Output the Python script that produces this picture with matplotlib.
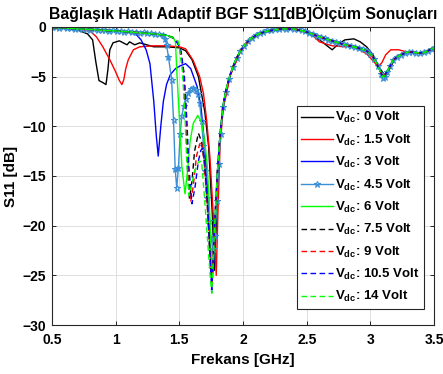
import numpy as np
import matplotlib
matplotlib.use("Agg")
import matplotlib.pyplot as plt

plt.rcParams['font.family'] = ['Liberation Sans', 'DejaVu Sans']
plt.rcParams['font.weight'] = 'bold'
plt.rcParams['mathtext.fontset'] = 'custom'
plt.rcParams['mathtext.rm'] = 'Liberation Sans:bold'
plt.rcParams['mathtext.bf'] = 'Liberation Sans:bold'
plt.rcParams['mathtext.it'] = 'Liberation Sans:bold'

# shared upper band (GHz, dB)
top_f = [0.5, 0.6, 0.7, 0.8, 0.9, 1.0, 1.1, 1.2, 1.3, 1.4]
top_s = [-0.05, -0.1, -0.2, -0.25, -0.35, -0.4, -0.5, -0.6, -0.7, -0.85]

# shared recovery after main dip
tail_f = [1.82, 1.845, 1.87, 1.9, 1.94, 1.98, 2.02, 2.06, 2.12, 2.2, 2.3, 2.4, 2.5, 2.6,
          2.7, 2.8, 2.9, 2.97, 3.02, 3.06, 3.1, 3.14, 3.18, 3.24, 3.3, 3.36, 3.42, 3.5]
tail_s = [-10.8, -7.8, -6.2, -4.8, -3.4, -2.4, -1.7, -1.2, -0.7, -0.4, -0.2, -0.2, -0.5, -1.0,
          -1.4, -1.8, -2.1, -2.4, -3.0, -4.0, -5.1, -4.3, -3.3, -2.8, -2.5, -2.6, -2.6, -2.1]

# 0 V
f_0 = [0.5, 0.6, 0.7, 0.78, 0.82, 0.845, 0.87, 0.9, 0.925, 0.94, 0.955, 0.98, 1.03, 1.09,
       1.11, 1.15, 1.19, 1.3, 1.4, 1.5, 1.55, 1.6, 1.65, 1.7, 1.73, 1.76, 1.775, 1.79, 1.80,
       1.82, 1.845, 1.9, 1.98, 2.06, 2.15, 2.25, 2.35, 2.45, 2.55, 2.6, 2.65, 2.7, 2.75, 2.8,
       2.87, 2.92, 2.97, 3.02, 3.07, 3.12, 3.16, 3.2, 3.25, 3.3, 3.36, 3.42, 3.5]
s_0 = [-0.05, -0.15, -0.3, -0.7, -1.3, -3.5, -5.4, -5.6, -5.8, -4.3, -2.3, -1.6, -1.4, -1.8,
       -1.5, -1.8, -1.6, -2.0, -2.0, -2.1, -2.4, -3.3, -5.0, -8.5, -12.0, -19.0, -24.5, -20.0,
       -16.5, -11.0, -8.0, -4.8, -2.4, -1.2, -0.6, -0.3, -0.2, -0.3, -0.9, -1.3, -1.8, -2.3,
       -1.7, -1.3, -1.2, -1.5, -2.0, -2.8, -4.1, -5.0, -4.0, -3.0, -2.7, -2.5, -2.6, -2.6, -2.1]

# 1.5 V
f_15 = [0.5, 0.6, 0.7, 0.8, 0.85, 0.9, 0.955, 1.0, 1.03, 1.05, 1.065, 1.08, 1.1, 1.14, 1.19,
        1.3, 1.4, 1.5, 1.55, 1.61, 1.66, 1.69, 1.715, 1.74, 1.76, 1.78, 1.79, 1.805, 1.82,
        1.845, 1.9, 1.98, 2.06, 2.15, 2.25, 2.35, 2.45, 2.55, 2.6, 2.7, 2.8, 2.84, 2.9, 2.97,
        3.02, 3.06, 3.09, 3.12, 3.16, 3.22, 3.28, 3.36, 3.42, 3.5]
s_15 = [-0.05, -0.15, -0.25, -0.4, -1.0, -2.0, -3.3, -4.5, -5.4, -5.8, -5.3, -4.2, -3.3,
        -2.3, -2.0, -1.9, -1.9, -2.0, -2.2, -3.4, -5.0, -6.7, -9.4, -13.0, -17.4, -22.0,
        -25.0, -18.0, -12.0, -8.2, -4.9, -2.5, -1.3, -0.6, -0.3, -0.2, -0.3, -0.9, -1.5,
        -1.9, -2.0, -1.8, -2.2, -2.7, -3.4, -4.0, -3.6, -2.8, -2.3, -2.3, -2.5, -2.6, -2.6, -2.1]

# 3 V
f_3 = [1.1, 1.165, 1.2, 1.24, 1.27, 1.30, 1.32, 1.335, 1.355, 1.375, 1.40, 1.43, 1.47, 1.51,
       1.55, 1.59, 1.64, 1.67, 1.70, 1.73, 1.755, 1.77, 1.785, 1.80]
s_3 = [-0.5, -0.8, -1.3, -2.3, -3.7, -7.5, -11.0, -13.0, -10.0, -7.5, -5.8, -4.8, -4.2, -3.9,
       -3.7, -4.2, -6.0, -8.0, -12.0, -18.0, -25.5, -24.0, -19.0, -14.5]

# 4.5 V (markers on every sample)
f_45 = [0.50, 0.53, 0.56, 0.59, 0.62, 0.65, 0.68, 0.71, 0.74, 0.77, 0.80, 0.83, 0.86, 0.89,
        0.92, 0.95, 0.98, 1.01, 1.04, 1.07, 1.10, 1.13, 1.16, 1.19, 1.22, 1.25, 1.28, 1.31,
        1.34, 1.37, 1.39, 1.40, 1.415, 1.44, 1.455, 1.468, 1.48, 1.493, 1.507, 1.52, 1.535,
        1.55, 1.57, 1.59, 1.61, 1.63, 1.645, 1.66, 1.675, 1.69, 1.705, 1.72, 1.735, 1.75,
        1.765, 1.78, 1.795, 1.81, 1.825, 1.845, 1.865, 1.89, 1.92, 1.95, 1.98, 2.01, 2.04,
        2.07, 2.10, 2.13, 2.16, 2.19, 2.22, 2.25, 2.28, 2.31, 2.34, 2.37, 2.40, 2.43, 2.46,
        2.49, 2.52, 2.55, 2.58, 2.61, 2.64, 2.67, 2.70, 2.73, 2.76, 2.79, 2.82, 2.85, 2.88,
        2.91, 2.94, 2.97, 3.00, 3.03, 3.06, 3.085, 3.10, 3.115, 3.13, 3.15, 3.18, 3.21, 3.24,
        3.27, 3.30, 3.33, 3.36, 3.39, 3.42, 3.45, 3.48, 3.50]
s_45 = [-0.05, 0.0, -0.1, -0.05, -0.15, -0.1, -0.2, -0.15, -0.25, -0.2, -0.3, -0.25, -0.3,
        -0.35, -0.3, -0.4, -0.35, -0.45, -0.4, -0.5, -0.45, -0.55, -0.5, -0.6, -0.55, -0.65,
        -0.6, -0.7, -0.75, -0.8, -1.2, -1.8, -3.0, -5.3, -9.4, -14.3, -16.2, -14.2, -10.8,
        -9.0, -8.0, -7.3, -6.7, -6.2, -6.1, -6.3, -6.8, -7.7, -9.5, -12.0, -14.5, -17.2,
        -19.5, -21.3, -22.4, -21.0, -17.5, -13.8, -10.8, -8.1, -6.5, -5.2, -4.0, -3.1, -2.4,
        -1.9, -1.4, -1.1, -0.8, -0.6, -0.5, -0.35, -0.3, -0.2, -0.25, -0.15, -0.2, -0.15,
        -0.2, -0.25, -0.35, -0.45, -0.6, -0.75, -0.9, -1.05, -1.15, -1.3, -1.4, -1.5, -1.6,
        -1.75, -1.85, -1.95, -2.05, -2.15, -2.25, -2.4, -2.7, -3.2, -3.9, -4.7, -5.1, -5.0,
        -4.5, -3.9, -3.3, -3.0, -2.8, -2.6, -2.5, -2.5, -2.6, -2.65, -2.55, -2.4, -2.2, -2.1]

# 6 V
f_6 = [1.45, 1.47, 1.48, 1.50, 1.52, 1.545, 1.565, 1.585, 1.61, 1.645, 1.675, 1.70, 1.72,
       1.74, 1.757, 1.775, 1.79, 1.80]
s_6 = [-1.0, -1.5, -4.3, -9.0, -14.0, -16.8, -14.5, -11.5, -9.7, -8.9, -9.6, -11.5, -14.0,
       -19.0, -26.0, -22.0, -17.5, -14.5]

# 7.5 V
f_75 = [1.45, 1.49, 1.505, 1.53, 1.55, 1.565, 1.58, 1.60, 1.62, 1.65, 1.675, 1.70, 1.725,
        1.745, 1.755, 1.77, 1.785, 1.80]
s_75 = [-1.1, -1.6, -2.3, -4.3, -9.0, -14.0, -17.3, -15.5, -12.5, -10.7, -11.5, -14.0, -19.0,
        -24.0, -25.5, -22.0, -18.0, -14.5]

# 9 V
f_9 = [1.45, 1.49, 1.51, 1.535, 1.555, 1.57, 1.59, 1.61, 1.635, 1.66, 1.675, 1.695, 1.725,
       1.745, 1.757, 1.77, 1.785, 1.80]
s_9 = [-1.1, -1.6, -2.4, -4.5, -9.0, -14.0, -17.6, -16.0, -13.0, -11.8, -11.6, -13.5, -19.0,
       -24.0, -26.0, -22.0, -18.0, -14.5]

# 10.5 V
f_105 = [1.45, 1.49, 1.515, 1.54, 1.56, 1.575, 1.60, 1.625, 1.65, 1.67, 1.685, 1.70, 1.725,
         1.745, 1.755, 1.77, 1.785, 1.80]
s_105 = [-1.1, -1.7, -2.5, -5.0, -9.5, -14.0, -17.8, -16.0, -13.5, -12.4, -12.2, -13.5, -18.5,
         -24.0, -26.8, -22.0, -18.0, -14.5]

# 14 V
f_14 = [1.45, 1.49, 1.50, 1.525, 1.545, 1.56, 1.575, 1.595, 1.62, 1.65, 1.675, 1.70, 1.725,
        1.745, 1.755, 1.77, 1.785, 1.80]
s_14 = [-1.1, -1.4, -2.0, -4.5, -9.0, -14.0, -17.0, -16.0, -14.5, -13.6, -13.5, -17.5, -22.0,
        -25.5, -26.8, -22.0, -18.0, -14.5]

labels = ['0', '1.5', '3', '4.5', '6', '7.5', '9', '10.5', '14']


def full(mid_f, mid_s, n_top):
    return (top_f[:n_top] + mid_f + tail_f, top_s[:n_top] + mid_s + tail_s)


fig = plt.figure(figsize=(4.43, 3.74), dpi=100)
ax = fig.add_axes([0.117, 0.131, 0.863, 0.797])

dash = (4, 2.5)
curves = [
    ((f_0, s_0), dict(color='k', ls='-')),
    ((f_15, s_15), dict(color='r', ls='-')),
    (full(f_3, s_3, 6), dict(color='b', ls='-')),
    ((f_45, s_45), dict(color='#3c8fd6', ls='-', marker='*', mfc='none', ms=5, mew=0.8)),
    (full(f_6, s_6, 10), dict(color='#00ff00', ls='-')),
    (full(f_75, s_75, 10), dict(color='k', ls='--', dashes=dash)),
    (full(f_9, s_9, 10), dict(color='r', ls='--', dashes=dash)),
    (full(f_105, s_105, 10), dict(color='b', ls='--', dashes=dash)),
    (full(f_14, s_14, 10), dict(color='#00ff00', ls='--', dashes=dash)),
]
for ((x, y), style), lab in zip(curves, labels):
    ax.plot(x, y, lw=1.0, label=r'$\mathbf{V_{dc}}$: ' + lab + ' Volt', **style)

ax.set_xlim(0.5, 3.5)
ax.set_ylim(-30, 0)
ax.set_xticks([0.5, 1, 1.5, 2, 2.5, 3, 3.5])
ax.set_xticklabels(['0.5', '1', '1.5', '2', '2.5', '3', '3.5'])
ax.set_yticks(np.arange(-30, 1, 5))
ax.grid(True, color='#e0e0e0', lw=0.7)
ax.set_axisbelow(True)
ax.tick_params(direction='in', top=True, right=True, labelsize=10, length=3, width=0.6,
               pad=4)
ax.tick_params(axis='x', pad=6)
for sp in ax.spines.values():
    sp.set_linewidth(0.8)
    sp.set_color('#262626')

ax.set_xlabel('Frekans [GHz]', fontsize=11, fontweight='bold', labelpad=4)
ax.set_ylabel('S11 [dB]', fontsize=11, fontweight='bold', labelpad=3)
ax.set_title('Bağlaşık Hatlı Adaptif BGF S11[dB]Ölçüm Sonuçları', fontsize=11.3,
             fontweight='bold', pad=6)

leg = ax.legend(loc='lower right', bbox_to_anchor=(0.974, 0.054),
                prop={'weight': 'bold', 'size': 9.5}, handlelength=2.4, handletextpad=0.15,
                labelspacing=0.55, borderaxespad=0, fancybox=False, framealpha=1,
                edgecolor='#262626', borderpad=0.35)
leg.get_frame().set_linewidth(0.8)

fig.savefig('out.png', dpi=100)
